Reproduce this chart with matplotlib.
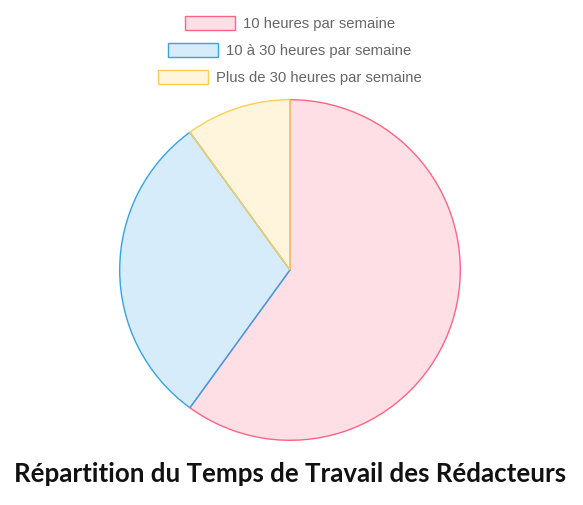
import matplotlib
matplotlib.use('Agg')
import matplotlib.pyplot as plt
from matplotlib.patches import Rectangle

# Données
categories = ['10 heures par semaine', '10 à 30 heures par semaine',
              'Plus de 30 heures par semaine']
valeurs = [60, 30, 10]
titre = 'Répartition du Temps de Travail des Rédacteurs'

fonds = [(1.0, 99/255, 132/255, 0.2), (54/255, 162/255, 235/255, 0.2),
         (1.0, 206/255, 86/255, 0.2)]
bords = ['#ff6384', '#36a2eb', '#ffce56']

W, H = 583, 506
fig = plt.figure(figsize=(W/100, H/100), dpi=100)

# Camembert (centre 290,271 ; rayon 171 px)
cx, cy, r = 290, 271, 172
ax = fig.add_axes([(cx-r)/W, (H-cy-r)/H, 2*r/W, 2*r/H])
parts, _ = ax.pie(valeurs, colors=fonds, startangle=90, counterclock=False,
                  radius=1, wedgeprops=dict(linewidth=1))
for p, b in zip(parts, bords):
    p.set_edgecolor(b)
ax.set_xlim(-1.01, 1.01)
ax.set_ylim(-1.01, 1.01)
ax.set_aspect('equal')
ax.axis('off')

# Légende manuelle, centrée
boites_x = [185, 168, 158]
lignes_y = [24, 51, 78]
for i, nom in enumerate(categories):
    x0 = boites_x[i]
    y0 = lignes_y[i]
    fig.patches.append(Rectangle((x0/W, (H-y0-7)/H), 50/W, 14/H,
                                 transform=fig.transFigure,
                                 facecolor=fonds[i], edgecolor=bords[i],
                                 linewidth=1))
    fig.text((x0+58)/W, (H-y0)/H, nom, ha='left', va='center',
             fontsize=10.7, color='#666666', family='Liberation Sans')

fig.text(290/W, (H-474)/H, titre, ha='center', va='center',
         fontsize=18.6, fontweight='bold', family='Lato', color='#111111')

fig.savefig('out.png', dpi=100)
